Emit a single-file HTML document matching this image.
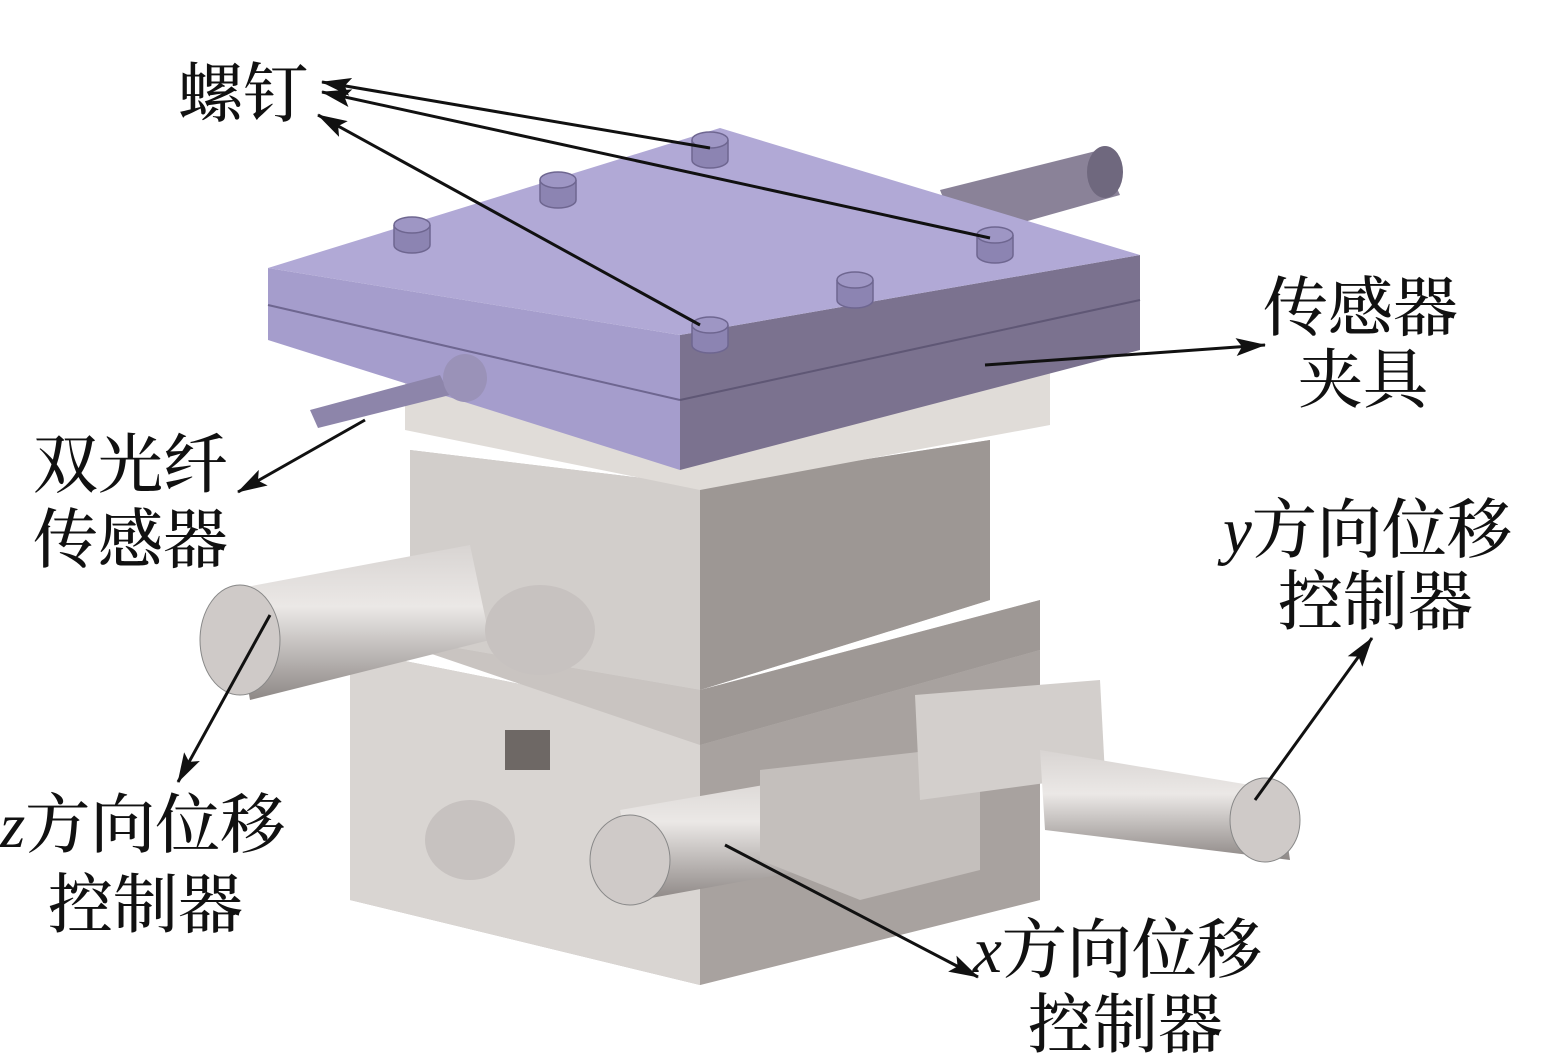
<!DOCTYPE html>
<html><head><meta charset="utf-8"><style>
html,body{margin:0;padding:0;background:#fff;}
svg{display:block}
text{font-family:"Liberation Serif","Noto Serif CJK SC",serif;font-size:65px;fill:#111;font-weight:500}
</style></head><body>
<svg width="1557" height="1062" viewBox="0 0 1557 1062" xmlns="http://www.w3.org/2000/svg">
<defs>
<marker id="ah" markerWidth="30" markerHeight="20" refX="29" refY="10" orient="auto" markerUnits="userSpaceOnUse" viewBox="0 0 30 20">
<path d="M0,1 L30,10 L0,19 L6,10 z" fill="#111"/></marker>
<linearGradient id="cyl" x1="0" y1="0" x2="0" y2="1">
<stop offset="0" stop-color="#d8d4d2"/><stop offset="0.4" stop-color="#ebe8e6"/><stop offset="1" stop-color="#8e8886"/></linearGradient>
</defs>
<!-- back rod -->
<polygon points="940,190 1100,150 1120,195 960,240" fill="#8a8298"/>
<ellipse cx="1105" cy="172" rx="18" ry="26" fill="#6f687e"/>
<!-- lower body -->
<polygon points="350,650 700,720 1040,650 1040,900 700,985 350,900" fill="#bdb8b5"/>
<polygon points="350,650 700,720 700,985 350,900" fill="#d9d5d2"/>
<polygon points="700,720 1040,650 1040,900 700,985" fill="#a8a29f"/>
<rect x="505" y="730" width="45" height="40" fill="#6e6865"/>
<!-- middle plate -->
<polygon points="420,600 700,690 1040,600 1040,650 700,745 420,650" fill="#c9c4c1"/>
<polygon points="700,690 1040,600 1040,650 700,745" fill="#9e9895"/>
<!-- upper block -->
<polygon points="410,450 700,485 990,440 990,600 700,690 410,640" fill="#bbb6b3"/>
<polygon points="410,450 700,485 700,690 410,640" fill="#d2cecb"/>
<polygon points="700,485 990,440 990,600 700,690" fill="#9d9794"/>
<polygon points="405,380 700,430 1050,370 1050,425 700,490 405,430" fill="#e0dcd8"/>
<!-- purple plate -->
<polygon points="268,268 268,340 680,470 680,335" fill="#a59dcc"/>
<polygon points="680,335 1140,255 1140,350 680,470" fill="#7b728f"/>
<polygon points="268,268 720,128 1140,255 680,335" fill="#b1a9d6"/>
<line x1="268" y1="305" x2="680" y2="400" stroke="#6e6690" stroke-width="2"/>
<line x1="680" y1="400" x2="1140" y2="300" stroke="#5f5775" stroke-width="2"/>
<!-- screws -->
<g fill="#9e96c4" stroke="#6e6690" stroke-width="1.5">
<g transform="translate(710,140)"><path d="M-18,0 v20 a18,8 0 0 0 36,0 v-20" fill="#8c84b2"/><ellipse rx="18" ry="8"/></g>
<g transform="translate(558,180)"><path d="M-18,0 v20 a18,8 0 0 0 36,0 v-20" fill="#8c84b2"/><ellipse rx="18" ry="8"/></g>
<g transform="translate(412,225)"><path d="M-18,0 v20 a18,8 0 0 0 36,0 v-20" fill="#8c84b2"/><ellipse rx="18" ry="8"/></g>
<g transform="translate(995,235)"><path d="M-18,0 v20 a18,8 0 0 0 36,0 v-20" fill="#8c84b2"/><ellipse rx="18" ry="8"/></g>
<g transform="translate(855,280)"><path d="M-18,0 v20 a18,8 0 0 0 36,0 v-20" fill="#8c84b2"/><ellipse rx="18" ry="8"/></g>
<g transform="translate(710,325)"><path d="M-18,0 v20 a18,8 0 0 0 36,0 v-20" fill="#8c84b2"/><ellipse rx="18" ry="8"/></g>
</g>
<!-- fiber sensor -->
<polygon points="310,410 440,375 450,395 318,428" fill="#8d85aa"/>
<ellipse cx="465" cy="378" rx="22" ry="24" fill="#9a92b8"/>
<!-- z micrometer -->
<polygon points="230,590 470,545 490,640 250,700" fill="url(#cyl)"/>
<ellipse cx="240" cy="640" rx="40" ry="55" fill="#cfcac8" stroke="#888" />
<ellipse cx="540" cy="630" rx="55" ry="45" fill="#c7c2c0"/>
<!-- x micrometer -->
<polygon points="620,810 850,770 860,860 640,900" fill="url(#cyl)"/>
<ellipse cx="630" cy="860" rx="40" ry="45" fill="#cfcac8" stroke="#888"/>
<polygon points="760,770 980,745 980,870 860,900 760,860" fill="#c4bfbc"/>
<ellipse cx="470" cy="840" rx="45" ry="40" fill="#c7c2c0"/>
<!-- y block and micrometer -->
<polygon points="915,695 1100,680 1105,775 920,800" fill="#d3cfcc"/>
<polygon points="1040,750 1280,790 1290,860 1045,830" fill="url(#cyl)"/>
<ellipse cx="1265" cy="820" rx="35" ry="42" fill="#cfcac8" stroke="#888"/>
<!-- arrows -->
<g stroke="#111" stroke-width="3" fill="none" marker-end="url(#ah)">
<line x1="710" y1="148" x2="322" y2="82"/>
<line x1="990" y1="238" x2="322" y2="92"/>
<line x1="700" y1="325" x2="318" y2="115"/>
<line x1="985" y1="365" x2="1265" y2="345"/>
<line x1="365" y1="420" x2="238" y2="492"/>
<line x1="270" y1="615" x2="178" y2="782"/>
<line x1="725" y1="845" x2="978" y2="977"/>
<line x1="1255" y1="800" x2="1372" y2="638"/>
</g>
<!-- labels -->
<text x="178" y="116">螺钉</text>
<text x="1263" y="330">传感器</text>
<text x="1298" y="402">夹具</text>
<text x="33" y="487">双光纤</text>
<text x="33" y="562">传感器</text>
<text x="1223" y="552"><tspan font-style="italic">y</tspan>方向位移</text>
<text x="1278" y="624">控制器</text>
<text x="0" y="847"><tspan font-style="italic">z</tspan>方向位移</text>
<text x="48" y="927">控制器</text>
<text x="973" y="972"><tspan font-style="italic">x</tspan>方向位移</text>
<text x="1028" y="1047">控制器</text>
</svg>
</body></html>
